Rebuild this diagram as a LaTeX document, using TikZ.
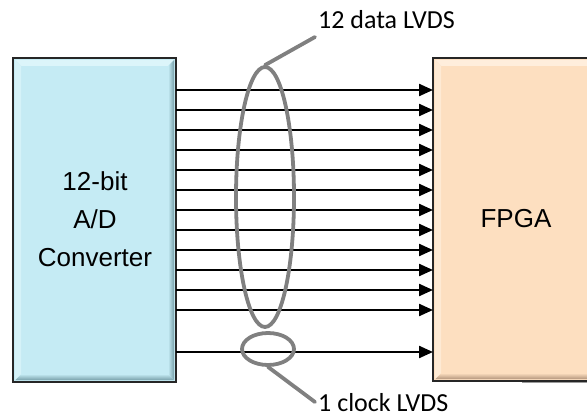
\documentclass[tikz,border=0pt]{standalone}
\usepackage{fontspec}
\setmainfont{Liberation Sans}
\newfontfamily\calib{Carlito}
\usetikzlibrary{arrows.meta,shapes.geometric}
\definecolor{adcfill}{RGB}{197,235,244}
\definecolor{adclight}{RGB}{220,245,250}
\definecolor{adcdark}{RGB}{120,160,170}
\definecolor{fpgafill}{RGB}{253,223,192}
\definecolor{fpgalight}{RGB}{255,238,220}
\definecolor{fpgadark}{RGB}{180,150,125}
\definecolor{loopgray}{RGB}{128,128,128}
\tikzset{
  sig/.style={line width=2.3pt,-{Triangle[length=14pt,width=12pt]}},
  loopline/.style={draw=loopgray,line width=3.8pt},
  callout/.style={font=\calib\fontsize{26}{30}\selectfont,anchor=west,inner sep=0pt},
  boxtext/.style={font=\fontsize{26}{38}\selectfont,align=center}
}
\begin{document}
\begin{tikzpicture}[x=1pt,y=-1pt]
\useasboundingbox (0,0) rectangle (587,420);
% ADC box with bevel
\fill[adcfill] (13,58) rectangle (176,382);
\fill[adclight] (15,60) -- (174,60) -- (168,66) -- (21,66) -- cycle;
\shade[left color=adcfill,right color=adcdark] (168,66) -- (174,60) -- (174,380) -- (168,374) -- cycle;
\shade[top color=adcfill,bottom color=adcdark] (21,374) -- (168,374) -- (174,380) -- (15,380) -- cycle;
\fill[adclight!70!adcfill] (15,60) -- (21,66) -- (21,374) -- (15,380) -- cycle;
\draw[line width=2pt,black!85] (13,58) rectangle (176,382);
\node[boxtext] (adc) at (95,219) {12-bit\\A/D\\Converter};
% FPGA box with bevel
\fill[loopgray!80] (522,381.5) rectangle (590,383);
\fill[fpgafill] (433,58) rectangle (592,381);
\fill[fpgalight] (435,60) -- (592,60) -- (592,66) -- (441,66) -- cycle;
\shade[top color=fpgafill,bottom color=fpgadark] (441,373) -- (592,373) -- (592,379) -- (435,379) -- cycle;
\fill[fpgalight!70!fpgafill] (435,60) -- (441,66) -- (441,373) -- (435,379) -- cycle;
\draw[line width=2pt,black!85] (592,58) -- (433,58) -- (433,381) -- (592,381);
\node[font=\fontsize{26}{30}\selectfont] (fpga) at (516,219) {FPGA};
% anchor coordinates on box edges
\foreach \i in {0,...,11} {
  \coordinate (s\i) at (176,{90+20*\i});
  \coordinate (t\i) at (433,{90+20*\i});
  \draw[sig] (s\i) -- (t\i);
}
\coordinate (sc) at (176,352);
\coordinate (tc) at (433,352);
\draw[sig] (sc) -- (tc);
% grouping loops
\node[loopline,ellipse,minimum width=58pt,minimum height=260pt,inner sep=0pt] (dataloop) at (265,197) {};
\node[loopline,ellipse,minimum width=52pt,minimum height=32pt,inner sep=0pt] (clkloop) at (268,349) {};
% callouts
\node[callout] (datalabel) at (318,20) {12 data LVDS};
\node[callout] (clklabel) at (318,403) {1 clock LVDS};
\coordinate (dend) at (315,37);
\coordinate (cend) at (315,402);
\draw[loopline,line cap=round] (dataloop.north) -- (dend);
\draw[loopline,line cap=round] (clkloop.south) -- (cend);
\end{tikzpicture}
\end{document}
